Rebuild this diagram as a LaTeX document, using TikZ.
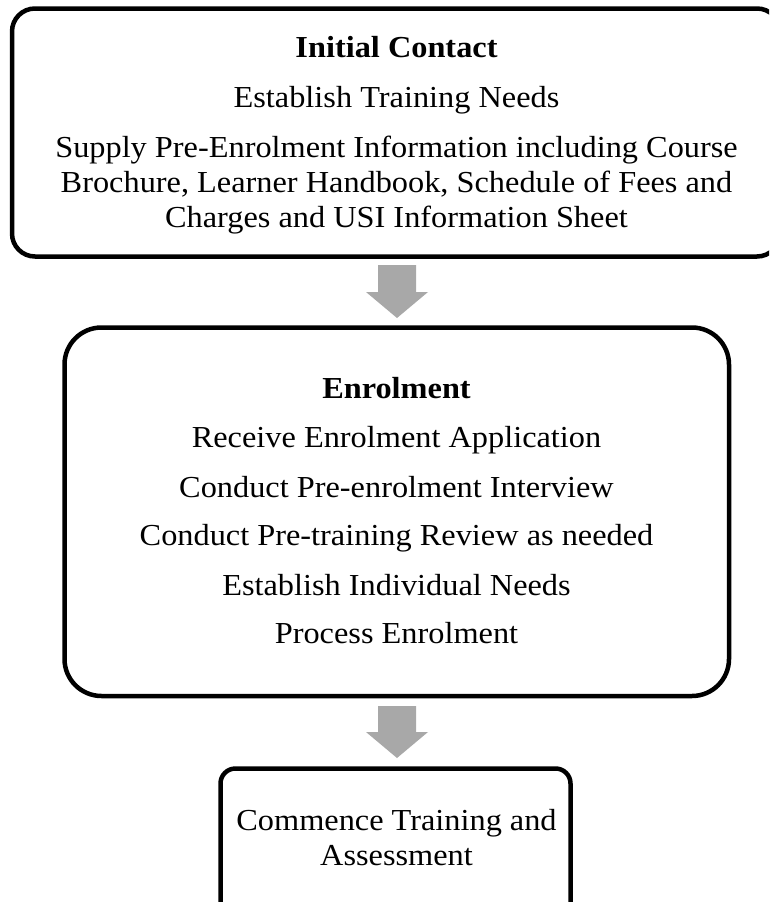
\documentclass[tikz,border=0pt]{standalone}
\usepackage{fontspec}
\setmainfont[FakeStretch=1.06]{Liberation Serif}
\definecolor{arrowgray}{RGB}{168,168,168}
\tikzset{
  box/.style={draw=black, line width=4.5pt, inner sep=0pt, outer sep=0pt},
  txt/.style={anchor=base, inner sep=0pt, font=\fontsize{30.5}{36}\selectfont},
  hdr/.style={anchor=base, inner sep=0pt, font=\fontsize{30.5}{36}\selectfont\bfseries},
  garrow/.style={fill=arrowgray, draw=none}
}
\begin{document}
\begin{tikzpicture}[x=1pt, y=-1pt]
\clip (0,0) rectangle (769,902);
\fill[white] (0,0) rectangle (769,902);
% boxes
\node[box, rounded corners=23pt, minimum width=768pt, minimum height=248pt] (b1) at (396,132.5) {};
\node[box, rounded corners=37pt, minimum width=664.5pt, minimum height=368.5pt] (b2) at (396.75,511.75) {};
\node[box, rounded corners=15pt, minimum width=350pt, minimum height=161.5pt] (b3) at (395.5,849.25) {};
% texts box 1
\node[hdr] (t11) at (396.5,57) {Initial Contact};
\node[txt] (t12) at (396.5,107) {Establish Training Needs};
\node[txt] (t13) at (396.5,157) {Supply Pre-Enrolment Information including Course};
\node[txt] (t14) at (396.5,192) {Brochure, Learner Handbook, Schedule of Fees and};
\node[txt] (t15) at (396.5,227) {Charges and USI Information Sheet};
% texts box 2
\node[hdr] (t21) at (396.5,398) {Enrolment};
\node[txt] (t22) at (396.5,447) {Receive Enrolment Application};
\node[txt] (t23) at (396.5,497) {Conduct Pre-enrolment Interview};
\node[txt] (t24) at (396.5,545) {Conduct Pre-training Review as needed};
\node[txt] (t25) at (396.5,595) {Establish Individual Needs};
\node[txt] (t26) at (396.5,643) {Process Enrolment};
% texts box 3
\node[txt] (t31) at (396.5,830) {Commence Training and};
\node[txt] (t32) at (396.5,865) {Assessment};
% arrows
\coordinate (a1) at (397,265);
\coordinate (a2) at (397,706);
\fill[garrow] (a1) ++(-19,0) -- ++(38,0) -- ++(0,27) -- ++(12,0) -- ++(-31,26) -- ++(-31,-26) -- ++(12,0) -- cycle;
\fill[garrow] (a2) ++(-19,0) -- ++(38,0) -- ++(0,26) -- ++(12,0) -- ++(-31,26) -- ++(-31,-26) -- ++(12,0) -- cycle;
\end{tikzpicture}
\end{document}
